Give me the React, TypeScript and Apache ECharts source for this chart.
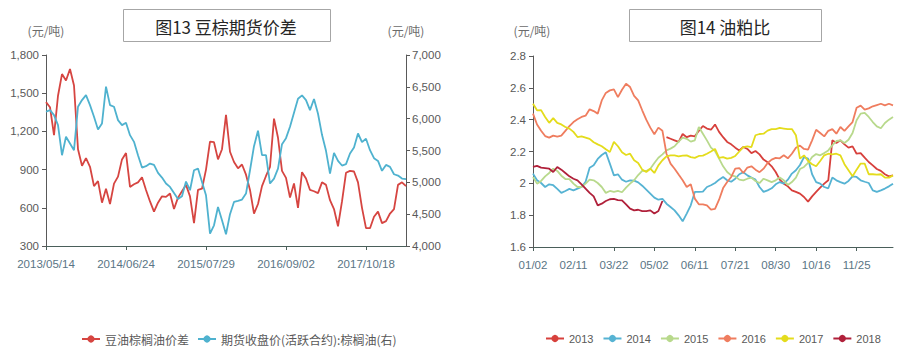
import React, { useEffect, useRef } from 'react';
import * as echarts from 'echarts';

// ---------- Chart 13: soybean oil / palm oil futures spread ----------
const leftTickLabels = ['2013/05/14', '2014/06/24', '2015/07/29', '2016/09/02', '2017/10/18'];
const leftTickIdx = [0, 20, 40, 60, 80];

// 豆油棕榈油价差 (left axis, 元/吨)
const spreadSoyPalm = [
  1430, 1390, 1170, 1480, 1650, 1600, 1690, 1560, 1060, 930,
  990, 922, 770, 810, 640, 750, 630, 790, 845, 980,
  1030, 764, 785, 800, 840, 740, 650, 570, 640, 690,
  686, 712, 590, 680, 730, 780, 690, 480, 740, 750,
  900, 1120, 1115, 980, 1060, 1330, 1040, 960, 910, 940,
  860, 740, 555, 630, 770, 850, 922, 1300, 1150, 890,
  835, 680, 791, 600, 880, 830, 740, 730, 715, 800,
  780, 660, 590, 455, 650, 875, 890, 885, 800, 600,
  440, 440, 530, 570, 480, 495, 555, 590, 780, 800,
  770,
];

// 期货收盘价(活跃合约):棕榈油 (right axis, 元/吨)
const palmFutures = [
  6108, 6135, 6056, 5899, 5426, 5715, 5610, 5505, 6187, 6292,
  6370, 6213, 6030, 5830, 5925, 6502, 6213, 6187, 5977, 5899,
  5935, 5741, 5636, 5426, 5232, 5253, 5295, 5274, 5148, 5075,
  4981, 4928, 4834, 4740, 4781, 5012, 4876, 5190, 5216, 5007,
  4797, 4194, 4325, 4613, 4404, 4183, 4500, 4692, 4708, 4729,
  4823, 5190, 5568, 5810, 5426, 5426, 4981, 5059, 5216, 5600,
  5694, 5872, 6093, 6313, 6365, 6292, 6135, 6308, 6077, 5746,
  5495, 5138, 5463, 5337, 5264, 5285, 5453, 5547, 5767, 5631,
  5684, 5505, 5379, 5337, 5180, 5274, 5243, 5127, 5107, 5059,
  5050,
];

// ---------- Chart 14: oil / meal ratio ----------
const rightTickLabels = ['01/02', '02/11', '03/22', '05/02', '06/11', '07/21', '08/30', '10/16', '11/25'];
const rightTickIdx = [0, 10, 20, 30, 40, 50, 60, 70, 80];
const years = ['2013', '2014', '2015', '2016', '2017', '2018'];

const ratio2013 = [
  null, null, null, null, null, null, null, null, null, null,
  null, null, null, null, null, null, null, null, null, null,
  null, null, null, null, null, null, null, null, null, null,
  null, null, null, 2.29, 2.28, 2.27, 2.26, 2.31, 2.29, 2.3,
  2.295, 2.33, 2.36, 2.344, 2.337, 2.37, 2.323, 2.29, 2.26, 2.245,
  2.224, 2.207, 2.228, 2.216, 2.19, 2.203, 2.182, 2.149, 2.132, 2.107,
  2.071, 2.023, 1.998, 1.981, 1.956, 1.946, 1.935, 1.914, 1.885, 1.918,
  1.946, 1.973, 1.998, 2.019, 2.27, 2.253, 2.27, 2.245, 2.224, 2.232,
  2.186, 2.19, 2.161, 2.134, 2.113, 2.09, 2.078, 2.057, 2.044, 2.05,
];
const ratio2014 = [
  2.061, 2.019, 2.002, 1.977, 1.994, 1.988, 1.965, 1.94, 1.952, 1.965,
  1.956, 1.967, 1.977, 2.01, 2.098, 2.113, 2.153, 2.178, 2.195, 2.124,
  2.05, 2.057, 2.023, 2.01, 2.019, 2.017, 2.006, 1.985, 1.96, 1.935,
  1.91, 1.897, 1.902, 1.872, 1.851, 1.83, 1.799, 1.761, 1.81, 1.862,
  1.946, 1.946, 1.948, 1.977, 1.988, 2.002, 2.023, 2.04, 2.019, 2.01,
  2.029, 2.057, 2.07, 2.05, 2.036, 2.023, 1.977, 1.946, 1.956, 1.969,
  1.994, 2.008, 1.998, 2.023, 2.061, 2.082, 2.115, 2.165, 2.155, 2.057,
  2.008, 1.998, 1.977, 1.969, 2.036, 2.019, 2.008, 1.998, 2.015, 2.044,
  2.04, 2.019, 2.01, 2.002, 1.956, 1.946, 1.956, 1.967, 1.981, 1.998,
];
const ratio2015 = [
  2.04, 1.998, 2.015, 2.044, 2.065, 2.092, 2.078, 2.048, 2.027, 2.027,
  1.998, 1.977, 1.977, 1.998, 2.023, 2.019, 2.002, 1.977, 1.94, 1.952,
  1.946, 1.952, 1.944, 1.973, 1.998, 2.019, 2.052, 2.078, 2.078, 2.092,
  2.128, 2.161, 2.182, 2.207, 2.218, 2.233, 2.262, 2.287, 2.28, 2.262,
  2.27, 2.354, 2.312, 2.27, 2.224, 2.203, 2.155, 2.107, 2.071, 2.05,
  2.044, 2.023, 2.019, 2.029, 2.036, 2.015, 2.002, 2.029, 2.019, 2.008,
  2.019, 2.036, 2.019, 1.99, 2.008, 2.036, 2.09, 2.103, 2.128, 2.165,
  2.184, 2.176, 2.19, 2.207, 2.239, 2.266, 2.27, 2.253, 2.274, 2.316,
  2.396, 2.438, 2.442, 2.417, 2.385, 2.358, 2.346, 2.379, 2.4, 2.417,
];
const ratio2016 = [
  2.438, 2.37, 2.33, 2.297, 2.287, 2.3, 2.293, 2.3, 2.33, 2.36,
  2.385, 2.402, 2.417, 2.425, 2.465, 2.454, 2.438, 2.521, 2.568, 2.584,
  2.59, 2.542, 2.588, 2.626, 2.605, 2.55, 2.521, 2.459, 2.4, 2.35,
  2.308, 2.35, 2.33, 2.186, 2.124, 2.092, 2.055, 2.019, 1.977, 1.994,
  1.904, 1.868, 1.868, 1.862, 1.835, 1.84, 1.897, 1.97, 2.008, 2.04,
  2.092, 2.096, 2.065, 2.099, 2.107, 2.086, 2.07, 2.092, 2.128, 2.149,
  2.16, 2.157, 2.176, 2.157, 2.186, 2.224, 2.237, 2.216, 2.212, 2.27,
  2.337, 2.316, 2.295, 2.33, 2.341, 2.312, 2.354, 2.33, 2.358, 2.385,
  2.475, 2.488, 2.463, 2.471, 2.484, 2.492, 2.5, 2.49, 2.5, 2.49,
];
const ratio2017 = [
  2.5, 2.459, 2.46, 2.417, 2.38, 2.41, 2.38, 2.37, 2.354, 2.344,
  2.323, 2.291, 2.295, 2.287, 2.279, 2.258, 2.245, 2.233, 2.214, 2.197,
  2.26, 2.233, 2.195, 2.178, 2.186, 2.145, 2.128, 2.086, 2.071, 2.092,
  2.065, 2.113, 2.145, 2.17, 2.176, 2.176, 2.17, 2.174, 2.176, 2.165,
  2.16, 2.172, 2.174, 2.186, 2.2, 2.216, 2.16, 2.165, 2.155, 2.16,
  2.172, 2.2, 2.228, 2.232, 2.228, 2.302, 2.31, 2.312, 2.331, 2.341,
  2.34, 2.348, 2.344, 2.34, 2.341, 2.302, 2.155, 2.176, 2.14, 2.12,
  2.107, 2.14, 2.176, 2.186, 2.182, 2.186, 2.176, 2.12, 2.082, 2.044,
  2.086, 2.124, 2.124, 2.057, 2.057, 2.055, 2.057, 2.036, 2.036, 2.05,
];
const ratio2018 = [
  2.103, 2.11, 2.099, 2.096, 2.092, 2.071, 2.103, 2.086, 2.065, 2.044,
  2.029, 2.019, 1.994, 1.967, 1.94, 1.918, 1.862, 1.872, 1.889, 1.9,
  1.902, 1.895, 1.893, 1.868, 1.841, 1.83, 1.834, 1.826, 1.826, 1.83,
  1.81, 1.826, 1.889,
];
const ratioSeries = [ratio2013, ratio2014, ratio2015, ratio2016, ratio2017, ratio2018];
const yearColors = ['#d7403c', '#56b3d3', '#b8d98c', '#ef7d5f', '#e4dc1c', '#b0203a'];

const toPoints = (arr: (number | null)[]) =>
  arr.map((v, i) => [i, v]).filter((d) => d[1] !== null);

const numFont = '"Liberation Sans", Arial, sans-serif';
const cjkFont = '"Noto Sans CJK SC", "Liberation Sans", sans-serif';
const fmtComma = (v: number) => Math.round(v).toLocaleString('en-US');

export default function App() {
  const ref = useRef<HTMLDivElement>(null);
  useEffect(() => {
    if (!ref.current) return;
    const chart = echarts.init(ref.current, null, { renderer: 'svg' });
    const yAxisCommon = {
      type: 'value',
      axisLine: { show: true, lineStyle: { color: '#595959', width: 1 } },
      axisTick: { show: true, length: 4, lineStyle: { color: '#595959' } },
      splitLine: { show: false },
    };
    const option: any = {
      animation: false,
      backgroundColor: '#ffffff',
      grid: [
        { left: 46, right: 507, top: 55, bottom: 106 },
        { left: 533, right: 20, top: 56, bottom: 105 },
      ],
      xAxis: [
        {
          type: 'value', gridIndex: 0, min: 0, max: 90,
          axisLine: { show: true, onZero: false, lineStyle: { color: '#4a5f5a', width: 1 } },
          axisTick: { show: true, length: 4, customValues: leftTickIdx, lineStyle: { color: '#4a5f5a' } },
          axisLabel: {
            customValues: leftTickIdx,
            formatter: (v: number) => leftTickLabels[leftTickIdx.indexOf(v)] ?? '',
            color: '#5a7585', fontSize: 11.5, fontFamily: numFont, margin: 12,
          },
          splitLine: { show: false },
        },
        {
          type: 'value', gridIndex: 1, min: 0, max: 89,
          axisLine: { show: true, onZero: false, lineStyle: { color: '#4a5f5a', width: 1 } },
          axisTick: { show: true, length: 4, customValues: rightTickIdx, lineStyle: { color: '#4a5f5a' } },
          axisLabel: {
            customValues: rightTickIdx,
            formatter: (v: number) => rightTickLabels[rightTickIdx.indexOf(v)] ?? '',
            color: '#5a7585', fontSize: 11.5, fontFamily: numFont, margin: 12,
          },
          splitLine: { show: false },
        },
      ],
      yAxis: [
        {
          ...yAxisCommon, gridIndex: 0, position: 'left', min: 300, max: 1800, interval: 300,
          axisLabel: { formatter: fmtComma, color: '#595959', fontSize: 11.5, fontFamily: numFont, margin: 7 },
        },
        {
          ...yAxisCommon, gridIndex: 0, position: 'right', min: 4000, max: 7000, interval: 500,
          axisLabel: { formatter: fmtComma, color: '#595959', fontSize: 11.5, fontFamily: numFont, margin: 6 },
        },
        {
          ...yAxisCommon, gridIndex: 1, position: 'left', min: 1.6, max: 2.8, interval: 0.2,
          axisLabel: { color: '#595959', fontSize: 11.5, fontFamily: numFont, margin: 7 },
        },
      ],
      legend: [
        {
          left: 76, top: 328, width: 420, itemWidth: 18, itemHeight: 9, itemGap: 8,
          data: ['豆油棕榈油价差', '期货收盘价(活跃合约):棕榈油(右)'],
          textStyle: { fontSize: 12, color: '#595959', fontFamily: cjkFont },
        },
        {
          left: 540, top: 328, width: 373, itemWidth: 18, itemHeight: 9, itemGap: 9,
          data: years,
          textStyle: { fontSize: 11, color: '#595959', fontFamily: numFont },
        },
      ],
      graphic: [
        { type: 'rect', shape: { x: 123.5, y: 9.5, width: 207, height: 32 }, style: { fill: '#fff', stroke: '#a6a6a6', lineWidth: 1 } },
        { type: 'text', x: 226, y: 26, style: { text: '图13 豆棕期货价差', fontSize: 17, fontFamily: cjkFont, fill: '#262626', align: 'center', verticalAlign: 'middle', textAlign: 'center', textVerticalAlign: 'middle' } },
        { type: 'rect', shape: { x: 629.5, y: 9.5, width: 192, height: 32 }, style: { fill: '#fff', stroke: '#a6a6a6', lineWidth: 1 } },
        { type: 'text', x: 725, y: 26, style: { text: '图14 油粕比', fontSize: 17, fontFamily: cjkFont, fill: '#262626', align: 'center', verticalAlign: 'middle', textAlign: 'center', textVerticalAlign: 'middle' } },
        { type: 'text', x: 46, y: 30, style: { text: '(元/吨)', fontSize: 12, fontFamily: cjkFont, fill: '#6b6b6b', align: 'center', verticalAlign: 'middle', textAlign: 'center', textVerticalAlign: 'middle' } },
        { type: 'text', x: 406, y: 30, style: { text: '(元/吨)', fontSize: 12, fontFamily: cjkFont, fill: '#6b6b6b', align: 'center', verticalAlign: 'middle', textAlign: 'center', textVerticalAlign: 'middle' } },
        { type: 'text', x: 532, y: 30, style: { text: '(元/吨)', fontSize: 12, fontFamily: cjkFont, fill: '#6b6b6b', align: 'center', verticalAlign: 'middle', textAlign: 'center', textVerticalAlign: 'middle' } },
      ],
      series: [
        {
          name: '豆油棕榈油价差', type: 'line', xAxisIndex: 0, yAxisIndex: 0,
          data: toPoints(spreadSoyPalm), symbol: 'circle', showSymbol: false,
          lineStyle: { width: 1.8, color: '#d64541' }, itemStyle: { color: '#d64541' },
        },
        {
          name: '期货收盘价(活跃合约):棕榈油(右)', type: 'line', xAxisIndex: 0, yAxisIndex: 1,
          data: toPoints(palmFutures), symbol: 'circle', showSymbol: false,
          lineStyle: { width: 1.8, color: '#4fb2cf' }, itemStyle: { color: '#4fb2cf' },
        },
        ...years.map((y, k) => ({
          name: y, type: 'line', xAxisIndex: 1, yAxisIndex: 2,
          data: toPoints(ratioSeries[k]), symbol: 'circle', showSymbol: false,
          lineStyle: { width: 1.8, color: yearColors[k] }, itemStyle: { color: yearColors[k] },
        })),
      ],
    };
    chart.setOption(option);
    return () => chart.dispose();
  }, []);
  return (
    <div
      ref={ref}
      style={{ position: 'fixed', left: 0, top: 0, width: 913, height: 352, background: '#fff' }}
    />
  );
}
